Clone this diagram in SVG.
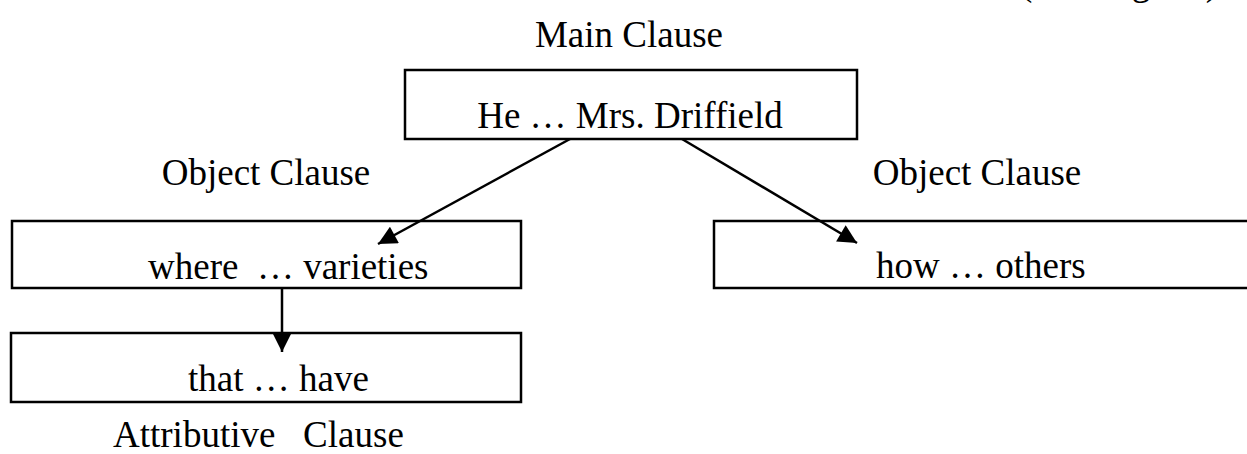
<svg xmlns="http://www.w3.org/2000/svg" width="1247" height="454" viewBox="0 0 1247 454">
<style>
text{font-family:"Liberation Serif","Times New Roman",serif;font-size:37px;fill:#000;white-space:pre}
.box{fill:#fff;stroke:#000;stroke-width:2.5}
.conn{stroke:#000;stroke-width:2.5;fill:none}
</style>
<defs>
<marker id="ah" viewBox="0 0 10 10" refX="10" refY="5" markerWidth="9" markerHeight="7.5" markerUnits="strokeWidth" orient="auto">
<path d="M0,0L10,5L0,10z" fill="#000"/>
</marker>
</defs>
<rect width="1247" height="454" fill="#fff"/>
<text x="1020" y="-5" textLength="198" lengthAdjust="spacing">(Passage 1)</text>
<g id="main">
<text x="629" y="47" text-anchor="middle">Main Clause</text>
<rect class="box" x="405" y="70" width="452" height="69"/>
<text x="630" y="128" text-anchor="middle">He … Mrs. Driffield</text>
</g>
<g id="where">
<text x="266" y="185" text-anchor="middle">Object Clause</text>
<rect class="box" x="12" y="221" width="509" height="67"/>
<text x="148" y="279" xml:space="preserve">where  … varieties</text>
</g>
<g id="how">
<text x="977" y="185" text-anchor="middle">Object Clause</text>
<rect class="box" x="714" y="221" width="540" height="67"/>
<text x="876" y="278">how … others</text>
</g>
<g id="that">
<rect class="box" x="11" y="333" width="510" height="69"/>
<text x="188" y="391">that … have</text>
<text x="113" y="447" xml:space="preserve">Attributive   Clause</text>
</g>
<g id="connectors">
<line class="conn" x1="570" y1="139" x2="378" y2="244" marker-end="url(#ah)"/>
<line class="conn" x1="682" y1="139" x2="857" y2="243" marker-end="url(#ah)"/>
<line class="conn" x1="282" y1="289" x2="282" y2="352" marker-end="url(#ah)"/>
</g>
</svg>
